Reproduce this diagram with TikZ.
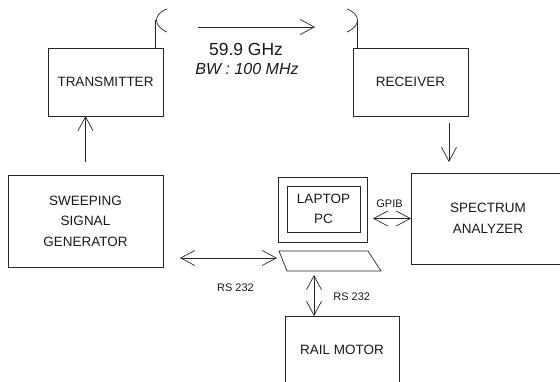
\documentclass[tikz,border=0pt]{standalone}
\usepackage{fontspec}
\setmainfont{Liberation Sans}
\usepackage{tikz}
\usetikzlibrary{arrows.meta, positioning}

\begin{document}
\begin{tikzpicture}[
  x=1pt, y=-1pt,
  line width=0.7pt, draw=black!85,
  box/.style={draw, inner sep=0pt, outer sep=0pt, align=center, text=black!90, font=\fontsize{13.5}{20.5}\selectfont},
  lbl/.style={inner sep=0pt, text=black!90, font=\fontsize{11}{13}\selectfont},
  arr/.style={-{Straight Barb[length=14pt, width=15pt]}},
  dbl/.style={{Straight Barb[length=14pt, width=15pt]}-{Straight Barb[length=14pt, width=15pt]}}
]
  \useasboundingbox (0,0) rectangle (560,381);

  \node[box, minimum width=115pt, minimum height=68pt] (tx) at (105.5,82) {TRANSMITTER};
  \node[box, minimum width=115pt, minimum height=68pt] (rx) at (410.5,82) {RECEIVER};
  \node[box, minimum width=155pt, minimum height=92pt] (gen) at (85.5,221) {SWEEPING\\SIGNAL\\GENERATOR};
  \node[box, minimum width=154pt, minimum height=91pt] (sa) at (488,218.5) {SPECTRUM\\ANALYZER};
  \node[box, minimum width=114pt, minimum height=68pt] (motor) at (342,350) {RAIL MOTOR};

  % laptop
  \node[box, minimum width=89pt, minimum height=65pt] (screen) at (322.5,209.5) {};
  \node[box, minimum width=73pt, minimum height=46pt] (pc) at (323.5,209) {LAPTOP\\PC};
  \coordinate (kbl) at (279,251);
  \coordinate (kbb) at (314,271);
  \draw (kbl) -- (368,251) -- (381,271) -- (287,271) -- cycle;

  % antennas
  \coordinate (txant) at (155.5,20);
  \coordinate (rxant) at (357,20);
  \draw (tx.north -| txant) -- (txant);
  \draw (167,9) .. controls (153,14) and (153,26) .. (167,32);
  \draw (rx.north -| rxant) -- (rxant);
  \draw (347,9) .. controls (361,14) and (361,26) .. (347,32);

  \draw[arr] ([xshift=42.5pt]txant |- 0,27) -- ([xshift=-42pt]rxant |- 0,27)
    node[anchor=base, midway, yshift=-28pt, xshift=-10.5pt, inner sep=0pt, text=black!90, font=\fontsize{17.5}{20}\selectfont] {59.9 GHz}
    node[anchor=base, midway, yshift=-47pt, xshift=-9.5pt, inner sep=0pt, text=black!90, font=\fontsize{16}{20}\selectfont\itshape] {BW : 100 MHz};

  \draw[arr] ([yshift=13pt]gen.north) -- (gen.north |- tx.south);
  \draw[arr] ([xshift=38.5pt, yshift=-7pt]rx.south) -- ([xshift=-39pt, yshift=11pt]sa.north);
  \draw[dbl] ([xshift=6pt]sa.west -| screen.east) -- node[lbl, anchor=base, yshift=11pt, xshift=-2.5pt] {GPIB} (sa.west);
  \draw[dbl] ([xshift=17pt, yshift=-7pt]gen.east |- kbl) -- ([xshift=-2pt, yshift=-7pt]kbl)
    node[lbl, anchor=base, midway, yshift=-33pt, xshift=7pt] {RS 232};
  \draw[dbl] ([yshift=-4pt]kbb) -- (motor.north -| kbb)
    node[lbl, anchor=base west, midway, xshift=19pt, yshift=-5pt] {RS 232};
\end{tikzpicture}
\end{document}
